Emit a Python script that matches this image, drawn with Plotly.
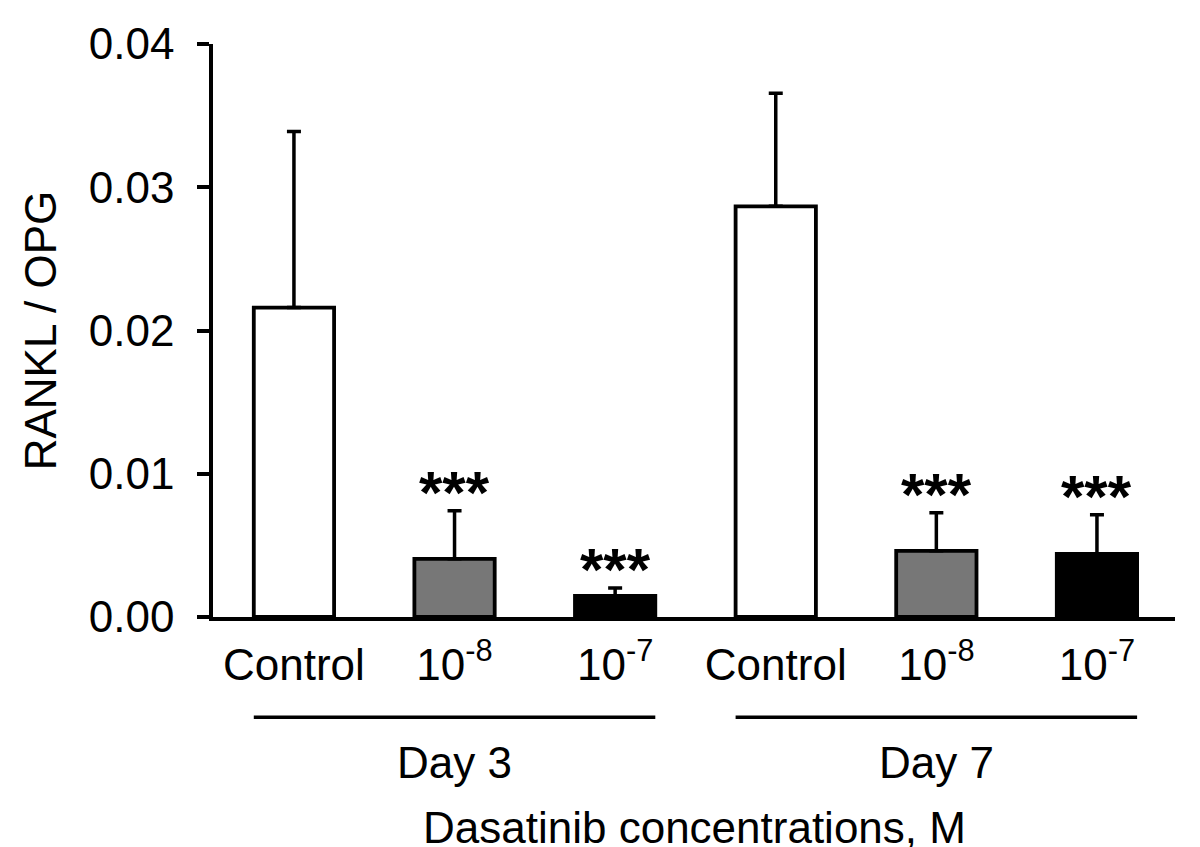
import plotly.graph_objects as go

# Data
categories = ["Control", "10<sup>-8</sup>", "10<sup>-7</sup>", "Control", "10<sup>-8</sup>", "10<sup>-7</sup>"]
x_pos = [0, 1, 2, 3, 4, 5]
means = [0.0216, 0.00406, 0.00147, 0.02867, 0.00462, 0.00441]
errors = [0.0123, 0.00335, 0.00056, 0.0079, 0.00265, 0.00272]
significance = ["", "***", "***", "", "***", "***"]
bar_colors = ["#ffffff", "#777777", "#000000", "#ffffff", "#777777", "#000000"]
groups = ["Day 3", "Day 7"]
group_centers = [1, 4]
group_spans = [(-0.25, 2.25), (2.75, 5.25)]
y_ticks = [0.0, 0.01, 0.02, 0.03, 0.04]
y_ticklabels = ["0.00", "0.01", "0.02", "0.03", "0.04"]

FONT = "Liberation Sans, Arial, Helvetica, sans-serif"
FS = 44

fig = go.Figure()
fig.add_trace(go.Bar(
    x=x_pos, y=means, width=0.5,
    marker=dict(color=bar_colors, line=dict(color="black", width=3.8)),
    error_y=dict(type="data", symmetric=False, array=errors,
                 arrayminus=[0] * len(errors), color="black",
                 thickness=3.5, width=7),
    showlegend=False,
))

annotations = []
for xi, m, e, s in zip(x_pos, means, errors, significance):
    if s:
        annotations.append(dict(x=xi, y=m + e, xref="x", yref="y", text="<b>" + s + "</b>",
                                showarrow=False, yanchor="bottom", yshift=-17,
                                font=dict(family=FONT, size=60, color="black")))

shapes = []
for (x0, x1) in group_spans:
    shapes.append(dict(type="line", xref="x", yref="paper", x0=x0, x1=x1,
                       y0=-0.175, y1=-0.175, line=dict(color="black", width=3.5)))
for g, c in zip(groups, group_centers):
    annotations.append(dict(x=c, y=-0.254, xref="x", yref="paper", text=g,
                            showarrow=False, yanchor="middle", xanchor="center",
                            font=dict(family=FONT, size=FS, color="black")))

annotations.append(dict(x=0.5, y=-0.368, xref="paper", yref="paper",
                        text="Dasatinib concentrations, M", showarrow=False,
                        yanchor="middle", xanchor="center", borderpad=0,
                        font=dict(family=FONT, size=FS, color="black")))
annotations.append(dict(x=-0.179, y=0.5, xref="paper", yref="paper",
                        text="RANKL / OPG", showarrow=False, textangle=-90,
                        yanchor="middle", xanchor="center",
                        font=dict(family=FONT, size=FS, color="black")))

fig.update_layout(
    width=1192, height=839,
    margin=dict(l=205, r=25, t=36, b=230),
    paper_bgcolor="white", plot_bgcolor="white",
    font=dict(family=FONT, size=FS, color="black"),
    annotations=annotations, shapes=shapes,
    bargap=0.5,
)
fig.update_xaxes(
    range=[-0.504, 5.486], tickmode="array", tickvals=x_pos, ticktext=categories,
    showline=True, linecolor="black", linewidth=3.5, ticks="", showgrid=False,
    zeroline=False, ticklabelstandoff=6,
    tickfont=dict(family=FONT, size=FS, color="black"),
)
fig.update_yaxes(
    range=[0, 0.04], tickmode="array", tickvals=y_ticks, ticktext=y_ticklabels,
    showline=True, linecolor="black", linewidth=3.5, ticks="outside",
    ticklen=12, tickwidth=3.5, tickcolor="black", showgrid=False,
    zeroline=False, ticklabelstandoff=14,
    tickfont=dict(family=FONT, size=FS, color="black"),
)

fig.write_html("out.html")
